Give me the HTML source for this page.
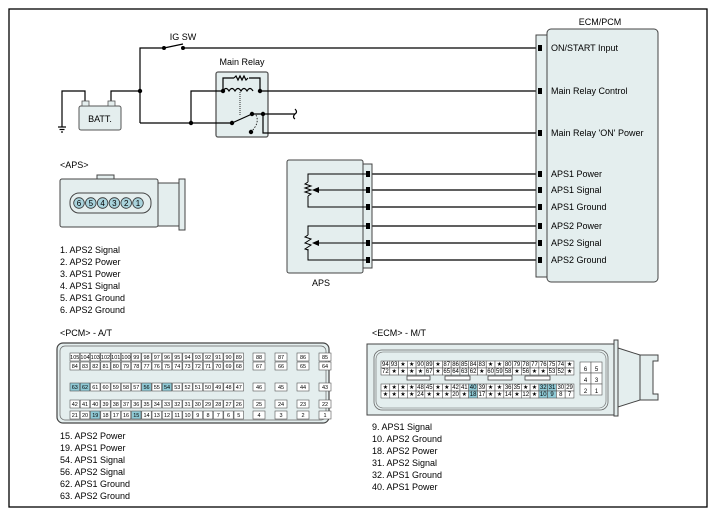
<!DOCTYPE html>
<html><head><meta charset="utf-8"><style>
body{margin:0;background:#fff}
svg{display:block;font-family:"Liberation Sans",sans-serif}
</style></head><body>
<svg id="s" width="717" height="518" viewBox="0 0 717 518" xmlns="http://www.w3.org/2000/svg">
<rect x="9" y="9" width="698" height="498" fill="#fff" stroke="#000" stroke-width="1.3"/>
<rect x="216" y="72" width="52" height="65" rx="2" fill="#e4eeee" stroke="#555" stroke-width="1.3"/>
<g stroke="#000" stroke-width="1.2" fill="none">
<polyline points="140,123 140,48 164,48"/>
<line x1="164" y1="48" x2="183" y2="44"/>
<line x1="183" y1="48" x2="536" y2="48"/>
<polyline points="62,127 62,91 85,91 85,101"/>
<polyline points="111,101 111,91 140,91"/>
<line x1="58" y1="127" x2="66" y2="127"/><line x1="59.5" y1="129.5" x2="64.5" y2="129.5"/><line x1="61" y1="132" x2="63" y2="132"/>
<polyline points="140,123 232,123"/>
<polyline points="191,123 191,91 223,91"/>
<line x1="232" y1="123" x2="252" y2="114"/>
<line x1="252" y1="114" x2="295" y2="114"/>
<line x1="260" y1="91" x2="536" y2="91"/>
<polyline points="263,114 263,133 536,133"/>
<path d="M295,109 q3,3 0,5 q-3,3 0,5"/>
<polyline points="223,91 223,78 234,78"/>
<polyline points="249,78 260,78 260,91"/>
<path d="M234,78 l2,-2 l2,4 l2,-4 l2,4 l2,-4 l2,4 l2,-2"/>
<path d="M223,91 q3,-5 6,0 q3,-5 6,0 q3,-5 6,0 q3,-5 6,0 q3,-5 6,0"/>
<line x1="240" y1="92" x2="240" y2="115" stroke-dasharray="1,1" stroke-width="0.8"/>
<path d="M256,115 q4,8 -5,17" stroke-dasharray="1.5,1.5" stroke-width="0.8"/>
<line x1="372" y1="174" x2="536" y2="174"/>
<line x1="372" y1="190" x2="536" y2="190"/>
<line x1="372" y1="207" x2="536" y2="207"/>
<line x1="372" y1="226" x2="536" y2="226"/>
<line x1="372" y1="243" x2="536" y2="243"/>
<line x1="372" y1="260" x2="536" y2="260"/>
</g>
<g fill="#000">
<circle cx="140" cy="91" r="2.2"/><circle cx="191" cy="123" r="2.2"/><circle cx="164" cy="48" r="2"/><circle cx="183" cy="48" r="2"/>
<circle cx="223" cy="91" r="2.2"/><circle cx="260" cy="91" r="2.2"/><circle cx="232" cy="123" r="2.2"/><circle cx="252" cy="114" r="2.2"/><circle cx="263" cy="114" r="2.2"/><circle cx="251" cy="132" r="2.2"/>
</g>
<rect x="79" y="106" width="42" height="24" rx="2" fill="#e4eeee" stroke="#555"/>
<rect x="82" y="101" width="7" height="5" fill="#e4eeee" stroke="#555" stroke-width="0.8"/>
<rect x="108" y="101" width="7" height="5" fill="#e4eeee" stroke="#555" stroke-width="0.8"/>
<text x="100" y="122" font-size="9" text-anchor="middle">BATT.</text>
<text x="183" y="40" font-size="9" text-anchor="middle">IG SW</text>
<text x="242" y="65" font-size="9" text-anchor="middle">Main Relay</text>
<rect x="536" y="35" width="11" height="242" fill="#e4eeee" stroke="#444"/>
<rect x="547" y="29" width="111" height="253" rx="4" fill="#e4eeee" stroke="#444"/>
<text x="600" y="25" font-size="9" text-anchor="middle">ECM/PCM</text>
<g fill="#000">
<rect x="538" y="45" width="4" height="6"/><rect x="538" y="88" width="4" height="6"/><rect x="538" y="130" width="4" height="6"/>
<rect x="538" y="171" width="4" height="6"/><rect x="538" y="187" width="4" height="6"/><rect x="538" y="204" width="4" height="6"/>
<rect x="538" y="223" width="4" height="6"/><rect x="538" y="240" width="4" height="6"/><rect x="538" y="257" width="4" height="6"/>
</g>
<g font-size="9">
<text x="551" y="51">ON/START Input</text>
<text x="551" y="94">Main Relay Control</text>
<text x="551" y="136">Main Relay 'ON' Power</text>
<text x="551" y="177">APS1 Power</text>
<text x="551" y="193">APS1 Signal</text>
<text x="551" y="210">APS1 Ground</text>
<text x="551" y="229">APS2 Power</text>
<text x="551" y="246">APS2 Signal</text>
<text x="551" y="263">APS2 Ground</text>
</g>
<rect x="363" y="164" width="9" height="104" fill="#e4eeee" stroke="#444"/>
<rect x="287" y="160" width="76" height="113" rx="2" fill="#e4eeee" stroke="#444"/>
<g fill="#000"><rect x="366" y="171" width="4" height="6"/><rect x="366" y="187" width="4" height="6"/><rect x="366" y="204" width="4" height="6"/><rect x="366" y="223" width="4" height="6"/><rect x="366" y="240" width="4" height="6"/><rect x="366" y="257" width="4" height="6"/></g>
<g stroke="#000" stroke-width="1" fill="none">
<polyline points="366,174 308,174 308,182"/><path d="M308,182 l-3,2 l6,2 l-6,2 l6,2 l-6,2 l6,2 l-3,2"/><polyline points="308,196 308,207 366,207"/>
<line x1="318" y1="190" x2="366" y2="190"/>
<polyline points="366,226 308,226 308,235"/><path d="M308,235 l-3,2 l6,2 l-3,2 l-3,2 l6,2 l-3,2 l-3,2 l3,1"/><polyline points="308,249 308,260 366,260"/>
<line x1="318" y1="243" x2="366" y2="243"/>
</g>
<path d="M312,190 l7,-3 v6z M312,243 l7,-3 v6z" fill="#000"/>
<text x="321" y="286" font-size="9" text-anchor="middle">APS</text>
<text x="60" y="168" font-size="9">&lt;APS&gt;</text>
<rect x="97" y="175" width="17" height="6" fill="#e4eeee" stroke="#444"/>
<rect x="158" y="183" width="21" height="43" fill="#e4eeee" stroke="#444"/>
<rect x="179" y="179" width="6" height="51" fill="#e4eeee" stroke="#444"/>
<rect x="60" y="179" width="98" height="48" rx="2" fill="#e4eeee" stroke="#444"/>
<rect x="70" y="193" width="81" height="20" rx="9" fill="none" stroke="#444"/>
<g fill="#a9d3dc" stroke="#333" stroke-width="0.8">
<circle cx="79" cy="203" r="5.3"/><circle cx="90.8" cy="203" r="5.3"/><circle cx="102.6" cy="203" r="5.3"/><circle cx="114.4" cy="203" r="5.3"/><circle cx="126.2" cy="203" r="5.3"/><circle cx="138" cy="203" r="5.3"/>
</g>
<g font-size="8" text-anchor="middle"><text x="79" y="206">6</text><text x="90.8" y="206">5</text><text x="102.6" y="206">4</text><text x="114.4" y="206">3</text><text x="126.2" y="206">2</text><text x="138" y="206">1</text></g>
<g font-size="9">
<text x="60" y="253">1. APS2 Signal</text><text x="60" y="265">2. APS2 Power</text><text x="60" y="277">3. APS1 Power</text><text x="60" y="289">4. APS1 Signal</text><text x="60" y="301">5. APS1 Ground</text><text x="60" y="313">6. APS2 Ground</text>
<text x="60" y="336">&lt;PCM&gt; - A/T</text>
<text x="372" y="336">&lt;ECM&gt; - M/T</text>
<text x="60" y="439">15. APS2 Power</text><text x="60" y="451">19. APS1 Power</text><text x="60" y="463">54. APS1 Signal</text><text x="60" y="475">56. APS2 Signal</text><text x="60" y="487">62. APS1 Ground</text><text x="60" y="499">63. APS2 Ground</text>
<text x="372" y="430">9. APS1 Signal</text><text x="372" y="442">10. APS2 Ground</text><text x="372" y="454">18. APS2 Power</text><text x="372" y="466">31. APS2 Signal</text><text x="372" y="478">32. APS1 Ground</text><text x="372" y="490">40. APS1 Power</text>
</g>
<rect x="57" y="343" width="272" height="80" rx="6" fill="#e4eeee" stroke="#444" stroke-width="1.2"/>
<rect x="60" y="346" width="266" height="74" rx="5" fill="none" stroke="#666" stroke-width="0.7"/>
<g id="pcm"></g>
<rect x="367" y="344" width="247" height="71" fill="#e4eeee" stroke="#444"/>
<rect x="374" y="350" width="234" height="60" rx="8" fill="none" stroke="#666" stroke-width="0.8"/>
<rect x="376" y="352" width="230" height="56" rx="7" fill="none" stroke="#666" stroke-width="0.6"/>
<rect x="614" y="340" width="4" height="76" fill="#e4eeee" stroke="#444"/>
<path d="M618,348 L640,355 V400 L618,407 Z" fill="#e4eeee" stroke="#444"/>
<path d="M640,355 h18 v6 h-5 v33 h5 v6 h-18 z" fill="#e4eeee" stroke="#444"/>
<g id="ecm"></g>
</svg>
<script>
var NS="http://www.w3.org/2000/svg";
function cell(g,x,y,w,h,t,hl,fs){var r=document.createElementNS(NS,"rect");r.setAttribute("x",x);r.setAttribute("y",y);r.setAttribute("width",w);r.setAttribute("height",h);r.setAttribute("fill",hl?"#8fcad6":"#fff");r.setAttribute("stroke","#555");r.setAttribute("stroke-width","0.6");g.appendChild(r);var tx=document.createElementNS(NS,"text");tx.setAttribute("x",x+w/2);tx.setAttribute("y",y+h-2);tx.setAttribute("font-size",fs);tx.setAttribute("text-anchor","middle");tx.textContent=t;g.appendChild(tx);}
var g=document.getElementById("pcm");
var rows=[[105,353],[84,362],[63,383],[42,400],[21,411]];
var rstart={105:[88,87,86,85],84:[67,66,65,64],63:[46,45,44,43],42:[25,24,23,22],21:[4,3,2,1]};
var hlP=[63,62,56,54,19,15];
rows.forEach(function(r){for(var i=0;i<17;i++){var n=r[0]-i;cell(g,70+i*10.25,r[1],9.5,8,n,hlP.indexOf(n)>=0,5.5);}
rstart[r[0]].forEach(function(n,j){cell(g,253+j*22,r[1],12,8,n,false,5.5);});});
g=document.getElementById("ecm");
var E=[["94","93","★","★","90","89","★","87","86","85","84","83","★","★","80","79","78","77","76","75","74","★"],
["72","★","★","★","★","67","★","65","64","63","62","★","60","59","58","★","56","★","★","53","52","★"],
["★","★","★","★","48","45","★","★","42","41","40","39","★","★","36","35","★","★","32","31","30","29"],
["★","★","★","★","24","★","★","★","20","★","18","17","★","★","14","★","12","★","10","9","8","7"]];
var ys=[361,368,384,391];var hlE=["40","18","32","31","10","9"];
E.forEach(function(row,ri){row.forEach(function(t,i){cell(g,381+i*8.77,ys[ri],8.77,7,t,hlE.indexOf(t)>=0,6);});});
[[6,5],[4,3],[2,1]].forEach(function(p,j){cell(g,580,362+j*11,11,11,p[0],false,6);cell(g,591,362+j*11,11,11,p[1],false,6);});
[[407,430],[445,470],[488,512],[525,550]].forEach(function(b){var r=document.createElementNS(NS,"rect");r.setAttribute("x",b[0]);r.setAttribute("y",376);r.setAttribute("width",b[1]-b[0]);r.setAttribute("height",4);r.setAttribute("fill","#fff");r.setAttribute("stroke","#444");r.setAttribute("stroke-width","0.8");g.appendChild(r);});
</script>
</body></html>
